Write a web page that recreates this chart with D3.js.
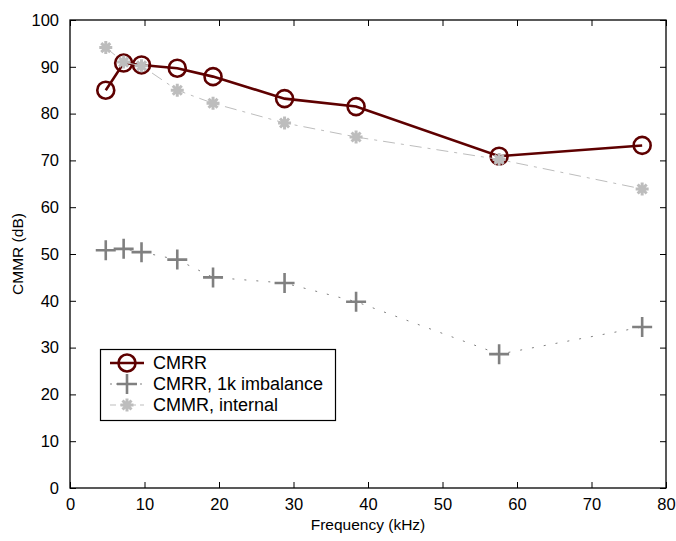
<!DOCTYPE html>
<html>
<head>
<meta charset="utf-8">
<script src="https://cdn.jsdelivr.net/npm/d3@7"></script>
<style>
  body { margin: 0; background: #fff; }
  text { font-family: "Liberation Sans", Arial, sans-serif; }
</style>
</head>
<body>
<div id="chart"></div>
<script>
// Data
var freq = [4.8, 7.2, 9.6, 14.4, 19.2, 28.8, 38.4, 57.6, 76.8];
var cmrr = [85, 90.8, 90.4, 89.7, 87.9, 83.2, 81.5, 70.9, 73.2];
var cmrrImbalance = [50.8, 51.1, 50.4, 48.8, 45.0, 43.8, 39.8, 28.6, 34.4];
var cmmrInternal = [94.1, 91.0, 90.2, 85.0, 82.2, 78.0, 75.0, 70.2, 63.9];
var xTicks = [0, 10, 20, 30, 40, 50, 60, 70, 80];
var yTicks = [0, 10, 20, 30, 40, 50, 60, 70, 80, 90, 100];
var legendLabels = ["CMRR", "CMRR, 1k imbalance", "CMMR, internal"];

var svgWidth = 676;
var svgHeight = 541;

var margin = {
    top: 20,
    right: 10,
    left: 70,
    bottom: 53
};

var width = svgWidth - margin.left - margin.right;
var height = svgHeight - margin.top - margin.bottom;

var svg = d3.select("#chart").append("svg")
    .attr("width", svgWidth)
    .attr("height", svgHeight);

var chartGroup = svg.append("g")
    .attr("transform", `translate(${margin.left}, ${margin.top})`);

var xScale = d3.scaleLinear().domain([0, 80]).range([0, width]);
var yScale = d3.scaleLinear().domain([0, 100]).range([height, 0]);

// axes with inward ticks on all four sides (matlab box style)
var tickLen = 6;
var bottomAxis = d3.axisBottom(xScale).tickValues(xTicks).tickSizeInner(-tickLen).tickSizeOuter(0).tickPadding(10);
var leftAxis = d3.axisLeft(yScale).tickValues(yTicks).tickSizeInner(-tickLen).tickSizeOuter(0).tickPadding(11);
var topAxis = d3.axisTop(xScale).tickValues(xTicks).tickSizeInner(-tickLen).tickSizeOuter(0).tickFormat("");
var rightAxis = d3.axisRight(yScale).tickValues(yTicks).tickSizeInner(-tickLen).tickSizeOuter(0).tickFormat("");

var gx = chartGroup.append("g").attr("transform", `translate(0, ${height})`).call(bottomAxis);
var gy = chartGroup.append("g").call(leftAxis);
var gt = chartGroup.append("g").call(topAxis);
var gr = chartGroup.append("g").attr("transform", `translate(${width}, 0)`).call(rightAxis);

[gx, gy, gt, gr].forEach(function(g) {
    g.select(".domain").remove();
    g.selectAll(".tick line").attr("stroke", "#000").attr("stroke-width", 1);
    g.selectAll(".tick text").attr("fill", "#000").style("font-size", "16.5px");
});

// frame
chartGroup.append("rect")
    .attr("width", width)
    .attr("height", height)
    .attr("fill", "none")
    .attr("stroke", "#000")
    .attr("stroke-width", 1.3);

// axis labels
svg.append("text")
    .attr("x", margin.left + width / 2)
    .attr("y", 530)
    .attr("text-anchor", "middle")
    .style("font-size", "15.5px")
    .text("Frequency (kHz)");

svg.append("text")
    .attr("transform", `translate(23, ${margin.top + height / 2}) rotate(-90)`)
    .attr("text-anchor", "middle")
    .style("font-size", "15.5px")
    .text("CMMR (dB)");

// marker helpers
function drawCircle(g, cx, cy) {
    g.append("circle")
        .attr("cx", cx).attr("cy", cy).attr("r", 8.5)
        .attr("fill", "none").attr("stroke", "#5e0000").attr("stroke-width", 2.6);
}
function drawPlus(g, cx, cy) {
    g.append("path")
        .attr("d", `M${cx - 10},${cy}H${cx + 10}M${cx},${cy - 10}V${cy + 10}`)
        .attr("stroke", "#808080").attr("stroke-width", 2.6).attr("fill", "none");
}
function drawStar(g, cx, cy) {
    var s = 6.5, d = 4.5;
    g.append("path")
        .attr("d", `M${cx - s},${cy}H${cx + s}M${cx},${cy - s}V${cy + s}` +
            `M${cx - d},${cy - d}L${cx + d},${cy + d}M${cx - d},${cy + d}L${cx + d},${cy - d}`)
        .attr("stroke", "#bdbdbd").attr("stroke-width", 3).attr("fill", "none");
}

var line = d3.line().x(d => xScale(d[0])).y(d => yScale(d[1]));

var series = [
    { values: cmrr, color: "#5e0000", width: 2.6, dash: null, marker: drawCircle },
    { values: cmrrImbalance, color: "#808080", width: 1, dash: "2,10", marker: drawPlus },
    { values: cmmrInternal, color: "#bdbdbd", width: 1, dash: "12,6,3,6", marker: drawStar }
];

series.forEach(function(s) {
    var pts = freq.map((f, i) => [f, s.values[i]]);
    var g = chartGroup.append("g");
    g.append("path")
        .attr("d", line(pts))
        .attr("fill", "none")
        .attr("stroke", s.color)
        .attr("stroke-width", s.width)
        .attr("stroke-dasharray", s.dash);
    pts.forEach(p => s.marker(g, xScale(p[0]), yScale(p[1])));
});

// legend
var legend = svg.append("g");
legend.append("rect")
    .attr("x", 100.5).attr("y", 349.5)
    .attr("width", 235).attr("height", 71)
    .attr("fill", "#fff").attr("stroke", "#000").attr("stroke-width", 1.2);

var rowY = [363, 384, 405];
series.forEach(function(s, i) {
    legend.append("line")
        .attr("x1", 110).attr("x2", 144)
        .attr("y1", rowY[i]).attr("y2", rowY[i])
        .attr("stroke", s.color).attr("stroke-width", s.width)
        .attr("stroke-dasharray", i === 0 ? null : (i === 1 ? "2,4" : "6,4"));
    s.marker(legend, 127, rowY[i]);
    legend.append("text")
        .attr("x", 153).attr("y", rowY[i] + 6)
        .style("font-size", "18px")
        .text(legendLabels[i]);
});
</script>
</body>
</html>
